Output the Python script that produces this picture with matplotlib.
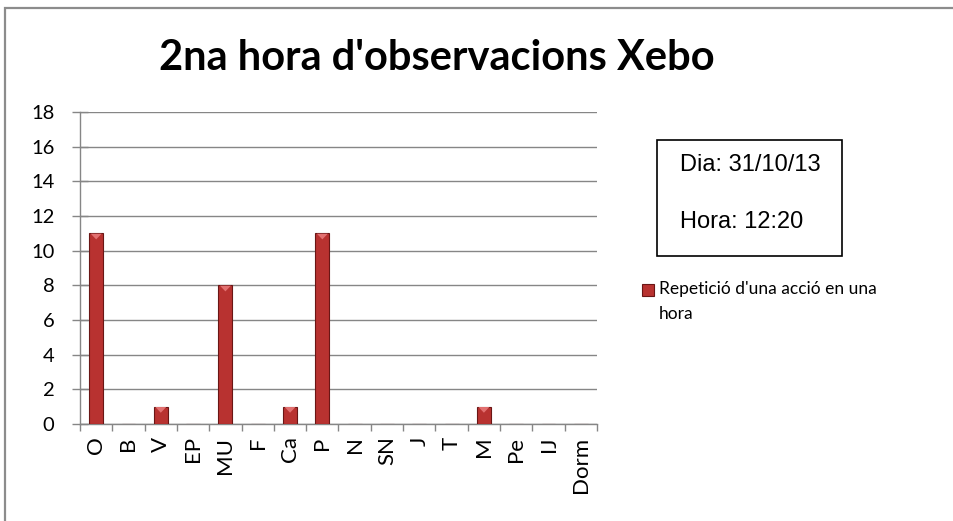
import matplotlib
matplotlib.use("Agg")
import matplotlib.pyplot as plt
from matplotlib.patches import Rectangle
import numpy as np

# ── data ──────────────────────────────────────────────────────────────────────
categories = ["O", "B", "V", "EP", "MU", "F", "Ca", "P",
              "N", "SN", "J", "T", "M", "Pe", "IJ", "Dorm"]
counts = [11, 0, 1, 0, 8, 0, 1, 11, 0, 0, 0, 0, 1, 0, 0, 0]
series_label = "Repetició d'una acció en una\nhora"
title = "2na hora d'observacions Xebo"
info_day = "Dia: 31/10/13"
info_hour = "Hora: 12:20"

W, H = 954, 521
BODY = "Lato"
GRID = "#868686"
BAR = "#B83230"
BAR_EDGE = "#6A1615"

fig = plt.figure(figsize=(W / 100, H / 100), dpi=100)

def fx(px):
    return px / W

def fy(py):
    return 1 - py / H

# chart frame (only top and left edge visible)
fig.patches.append(Rectangle((fx(5), fy(530)), fx(960), fy(8) - fy(530),
                             transform=fig.transFigure, fill=False,
                             edgecolor="#8c8c8c", linewidth=1.6))

# ── plot area ─────────────────────────────────────────────────────────────────
ax = fig.add_axes([fx(80), fy(424), fx(597) - fx(80), fy(112) - fy(424)])
x = np.arange(len(categories))
ax.bar(x, counts, width=0.43, color=BAR, edgecolor=BAR_EDGE, linewidth=0.8,
       zorder=3)
# small bevel highlight at the top of each bar
for xi, v in zip(x, counts):
    if v > 0:
        ax.fill([xi - 0.17, xi + 0.17, xi], [v - 0.02, v - 0.02, v - 0.35],
                color="#E27070", zorder=4, linewidth=0)

ax.set_xlim(-0.5, len(categories) - 0.5)
ax.set_ylim(0, 18)
ax.set_yticks(range(0, 19, 2))
ax.yaxis.grid(True, color=GRID, linewidth=1)
ax.set_axisbelow(True)
for s in ["top", "right"]:
    ax.spines[s].set_visible(False)
for s in ["left", "bottom"]:
    ax.spines[s].set_color(GRID)
    ax.spines[s].set_linewidth(1)

ax.set_xticks(x)
ax.set_xticklabels(categories, rotation=90, fontsize=16, family=BODY)
ax.set_xticks(np.arange(-0.5, len(categories)), minor=True)
ax.tick_params(axis="x", which="major", length=0, pad=9)
ax.tick_params(axis="x", which="minor", length=5, color=GRID, width=1)
ax.tick_params(axis="y", direction="inout", length=11, color=GRID, width=1,
               pad=13, labelsize=14.5)
for lab in ax.get_yticklabels():
    lab.set_family(BODY)

# ── title ─────────────────────────────────────────────────────────────────────
fig.text(fx(437), fy(58), title, ha="center", va="center",
         fontsize=30, fontweight="bold", family=BODY)

# ── info box ──────────────────────────────────────────────────────────────────
fig.patches.append(Rectangle((fx(657), fy(256)), fx(842) - fx(657),
                             fy(140) - fy(256), transform=fig.transFigure,
                             fill=False, edgecolor="black", linewidth=1.2))
fig.text(fx(680), fy(165), info_day, ha="left", va="center",
         fontsize=17, family="Liberation Sans")
fig.text(fx(680), fy(222), info_hour, ha="left", va="center",
         fontsize=17, family="Liberation Sans")

# ── legend ────────────────────────────────────────────────────────────────────
fig.patches.append(Rectangle((fx(642), fy(296)), fx(12), fy(284) - fy(296),
                             transform=fig.transFigure, facecolor=BAR,
                             edgecolor=BAR_EDGE, linewidth=0.8))
fig.text(fx(659), fy(281), series_label, ha="left", va="top",
         fontsize=12.5, family=BODY, linespacing=1.7)

fig.savefig("out.png", dpi=100)
